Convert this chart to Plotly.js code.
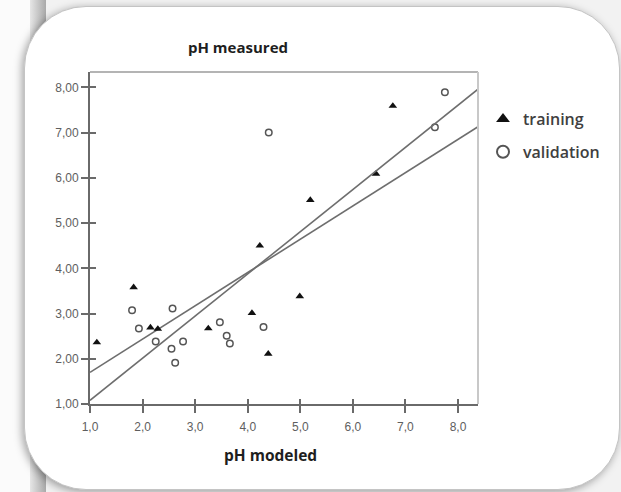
<!DOCTYPE html>
<html>
<head>
<meta charset="utf-8">
<script src="https://cdn.plot.ly/plotly-3.0.1.min.js"></script>
<style>
  html, body { margin: 0; padding: 0; width: 621px; height: 492px; overflow: hidden; background: #f2f2f2; }
  #leftstrip { position: absolute; left: 0; top: 0; width: 32px; height: 492px; background: #fbfbfb; }
  #band { position: absolute; left: 30px; top: 0; width: 16px; height: 492px;
          background: linear-gradient(to right, #e6e6e6, #a9a9a9); }
  #box { position: absolute; left: 24px; top: 6px; width: 596px; height: 484px; background: #ffffff;
         border-radius: 62px; border: 1px solid #c4c4c4; box-sizing: border-box;
         box-shadow: -2px 2px 8px rgba(0,0,0,0.35); }
  #chart { position: absolute; left: 0; top: 0; width: 621px; height: 492px; }
</style>
</head>
<body>
<div id="leftstrip"></div>
<div id="band"></div>
<div id="box"></div>
<div id="chart"></div>
<script>
// ---- data ----
const trainX = [1.13, 1.83, 2.15, 2.29, 3.25, 4.08, 4.23, 4.39, 4.99, 5.19, 6.44, 6.76];
const trainY = [2.36, 3.58, 2.69, 2.66, 2.67, 3.01, 4.50, 2.11, 3.38, 5.51, 6.09, 7.59];
const validX = [1.80, 1.93, 2.25, 2.57, 2.55, 2.62, 2.77, 3.47, 3.60, 3.66, 4.30, 4.40, 7.56, 7.75];
const validY = [3.07, 2.67, 2.38, 3.11, 2.22, 1.91, 2.38, 2.81, 2.51, 2.34, 2.70, 7.00, 7.12, 7.89];
const lineAX = [1.0, 8.38];
const lineAY = [1.08, 7.96];
const lineBX = [1.0, 8.38];
const lineBY = [1.70, 7.13];
const xTicks = [1, 2, 3, 4, 5, 6, 7, 8];
const yTicks = [1, 2, 3, 4, 5, 6, 7, 8];
const seriesNames = ["training", "validation"];
const xTitle = "pH modeled";
const yTitle = "pH measured";

const xRange = [1, 8.38];
const yRange = [1, 8.34];
const L = 90, R = 143, T = 72, B = 88, W = 621, H = 492;
const PW = W - L - R, PH = H - T - B;
const px2paperX = p => (p - L) / PW;
const px2paperY = p => (H - B - p) / PH;

const lineStyle = { color: '#6e6e6e', width: 1.6 };

const traces = [
  { x: lineAX, y: lineAY, mode: 'lines', line: lineStyle, showlegend: false, hoverinfo: 'skip',
    xaxis: 'x2', yaxis: 'y2' },
  { x: lineBX, y: lineBY, mode: 'lines', line: lineStyle, showlegend: false, hoverinfo: 'skip' },
  { x: trainX, y: trainY, mode: 'markers', name: seriesNames[0], legendgroup: 'a',
    marker: { symbol: 'triangle-up', size: 7.5, color: '#111111', line: { width: 0 } } },
  { x: validX, y: validY, mode: 'markers', name: seriesNames[1], legendgroup: 'b',
    marker: { symbol: 'circle-open', size: 6.5, color: '#555555', line: { width: 1.5, color: '#555555' } } }
];

const tickFont = { family: 'Liberation Sans, Arial, sans-serif', size: 12, color: '#5e5e5e' };

const layout = {
  width: W, height: H,
  margin: { l: L, r: R, t: T, b: B, pad: 0 },
  paper_bgcolor: 'rgba(0,0,0,0)',
  plot_bgcolor: '#ffffff',
  separators: ',.',
  showlegend: true,
  legend: {
    x: px2paperX(483), xanchor: 'left',
    y: px2paperY(102), yanchor: 'top',
    font: { family: 'Open Sans, sans-serif', size: 16, color: '#404040', weight: 600 },
    itemsizing: 'constant',
    traceorder: 'grouped',
    tracegroupgap: 9,
    bgcolor: 'rgba(0,0,0,0)'
  },
  xaxis: {
    range: xRange, tickvals: xTicks, tickformat: '.1f',
    showgrid: false, zeroline: false,
    showline: true, linecolor: '#6a6a6a', linewidth: 2,
    ticks: 'outside', ticklen: 7, tickwidth: 2, tickcolor: '#6a6a6a',
    tickfont: tickFont, ticklabelstandoff: 4
  },
  yaxis: {
    range: yRange, tickvals: yTicks, tickformat: '.2f',
    showgrid: false, zeroline: false,
    showline: true, linecolor: '#6a6a6a', linewidth: 2,
    ticks: 'outside', ticklen: 7, tickwidth: 2, tickcolor: '#6a6a6a',
    tickfont: tickFont
  },
  xaxis2: {
    overlaying: 'x', anchor: 'y2', side: 'bottom', range: xRange, tickvals: xTicks,
    showgrid: false, zeroline: false, showline: false, showticklabels: false,
    ticks: 'inside', ticklen: 5, tickwidth: 2, tickcolor: '#6a6a6a'
  },
  yaxis2: {
    overlaying: 'y', anchor: 'x2', side: 'left', range: yRange, tickvals: yTicks,
    showgrid: false, zeroline: false, showline: false, showticklabels: false,
    ticks: 'inside', ticklen: 6, tickwidth: 2, tickcolor: '#6a6a6a'
  },
  shapes: [
    { type: 'line', xref: 'paper', yref: 'paper', x0: 0, x1: 1, y0: 1, y1: 1,
      line: { color: '#b4b4b4', width: 2 } },
    { type: 'line', xref: 'paper', yref: 'paper', x0: 1, x1: 1, y0: 0, y1: 1,
      line: { color: '#c8c8c8', width: 2 } }
  ],
  annotations: [
    { text: '<b>' + yTitle + '</b>', xref: 'paper', yref: 'paper',
      x: px2paperX(238), y: px2paperY(47), xanchor: 'center', yanchor: 'middle', showarrow: false,
      font: { family: 'Open Sans, sans-serif', size: 15, color: '#1e1e1e' } },
    { text: '<b>' + xTitle + '</b>', xref: 'paper', yref: 'paper',
      x: px2paperX(270), y: px2paperY(455), xanchor: 'center', yanchor: 'middle', showarrow: false,
      font: { family: 'Open Sans, sans-serif', size: 15.5, color: '#1e1e1e' } }
  ]
};

Plotly.newPlot('chart', traces, layout, { staticPlot: true, displayModeBar: false });
</script>
</body>
</html>
